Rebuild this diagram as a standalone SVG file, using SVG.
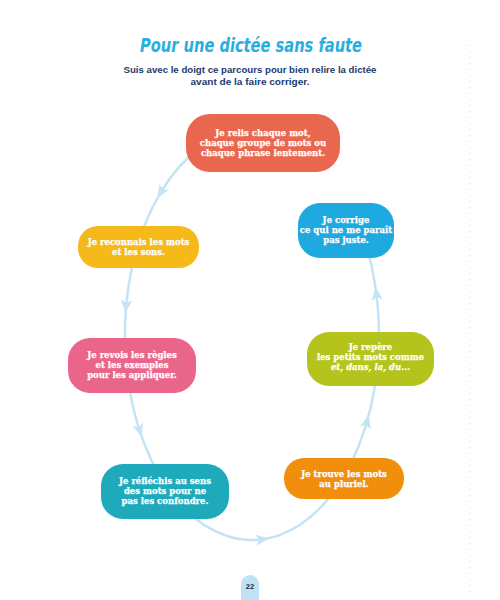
<svg xmlns="http://www.w3.org/2000/svg" width="500" height="600" viewBox="0 0 500 600">
<style>
.t{font-family:"DejaVu Serif","Liberation Serif",serif;font-weight:bold;font-size:8.5px;fill:#fff;stroke:#fff;stroke-width:0.25;text-anchor:middle}
.a{fill:#c4e4f5}
</style>
<defs>
<polygon id="ah" points="7,0 -6,-5.5 -3,0 -6,5.5"/>
</defs>
<rect width="500" height="600" fill="#fff"/>
<line x1="470" y1="45" x2="470" y2="595" stroke="#d8d8d8" stroke-width="1" stroke-dasharray="1 5"/>
<text x="251" y="52" font-family="DejaVu Sans, sans-serif" font-style="italic" font-weight="bold" font-size="19" fill="#2aaee2" text-anchor="middle" textLength="222" lengthAdjust="spacingAndGlyphs">Pour une dictée sans faute</text>
<g font-family="Liberation Sans, Arial, sans-serif" font-weight="bold" font-size="9" fill="#1c3a6c" text-anchor="middle">
<text x="250" y="73" textLength="253" lengthAdjust="spacingAndGlyphs">Suis avec le doigt ce parcours pour bien relire la dictée</text>
<text x="250" y="85" textLength="119" lengthAdjust="spacingAndGlyphs">avant de la faire corriger.</text>
</g>
<g id="connectors">
<path d="M190,156 A127,205 0 1,0 352.6,210" fill="none" stroke="#c4e4f5" stroke-width="2.5"/>
<use href="#ah" class="a" transform="translate(161,192) rotate(121)"/>
<use href="#ah" class="a" transform="translate(126,306) rotate(95)"/>
<use href="#ah" class="a" transform="translate(139.5,430) rotate(72)"/>
<use href="#ah" class="a" transform="translate(262,539.4) rotate(-7)"/>
<use href="#ah" class="a" transform="translate(367,422) rotate(-74)"/>
<use href="#ah" class="a" transform="translate(376.5,294) rotate(-97)"/>
</g>
<g id="n1">
<rect x="186" y="114" width="154" height="58" rx="24" fill="#e9664f"/>
<text class="t" x="263" y="135.5">Je relis chaque mot,</text>
<text class="t" x="263" y="145.5">chaque groupe de mots ou</text>
<text class="t" x="263" y="155.5">chaque phrase lentement.</text>
</g>
<g id="n2">
<rect x="78" y="226" width="121" height="42" rx="20" fill="#f6b91a"/>
<text class="t" x="138.5" y="244.5">Je reconnais les mots</text>
<text class="t" x="138.5" y="254.5">et les sons.</text>
</g>
<g id="n3">
<rect x="68" y="338" width="128" height="55" rx="22" fill="#e9668a"/>
<text class="t" x="132" y="358">Je revois les règles</text>
<text class="t" x="132" y="368">et les exemples</text>
<text class="t" x="132" y="378">pour les appliquer.</text>
</g>
<g id="n4">
<rect x="101" y="464" width="128" height="55" rx="22" fill="#1eaabb"/>
<text class="t" x="165" y="484">Je réfléchis au sens</text>
<text class="t" x="165" y="494">des mots pour ne</text>
<text class="t" x="165" y="504">pas les confondre.</text>
</g>
<g id="n5">
<rect x="284" y="458" width="120" height="41" rx="20" fill="#f18f0c"/>
<text class="t" x="344" y="476.5">Je trouve les mots</text>
<text class="t" x="344" y="486.5">au pluriel.</text>
</g>
<g id="n6">
<rect x="307" y="332" width="127" height="54" rx="22" fill="#b4c41c"/>
<text class="t" x="370.5" y="350">Je repère</text>
<text class="t" x="370.5" y="360">les petits mots comme</text>
<text class="t" x="370.5" y="370" font-style="italic">et, dans, la, du...</text>
</g>
<g id="n7">
<rect x="298" y="203" width="96" height="55" rx="22" fill="#1fa9e1"/>
<text class="t" x="346" y="222.5">Je corrige</text>
<text class="t" x="346" y="232.5">ce qui ne me paraît</text>
<text class="t" x="346" y="242.5">pas juste.</text>
</g>
<g id="page">
<path d="M241,600 V584 a9,9 0 0 1 18,0 V600 Z" fill="#bfe3f5"/>
<text x="250" y="589" font-family="Liberation Sans, Arial, sans-serif" font-weight="bold" font-size="7.5" fill="#1c2a44" text-anchor="middle">22</text>
</g>
</svg>
